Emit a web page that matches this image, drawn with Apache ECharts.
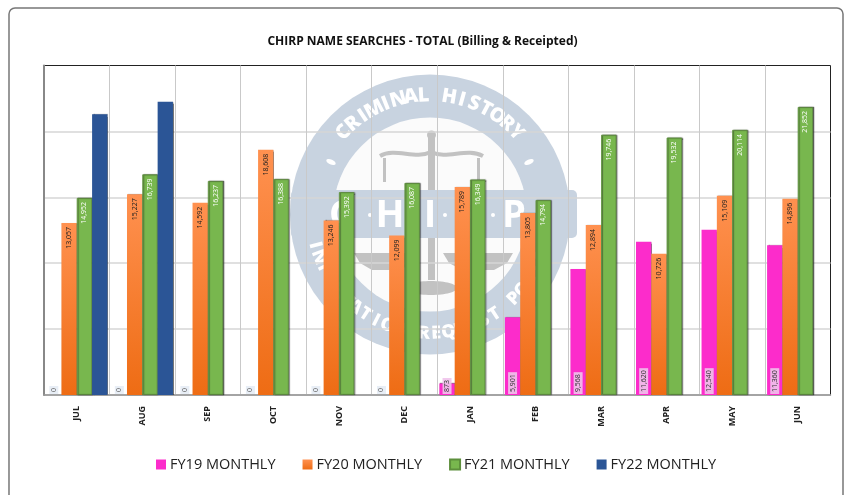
<!DOCTYPE html>
<html><head><meta charset="utf-8">
<style>html,body{margin:0;padding:0;background:#fff}#c{width:845px;height:495px}</style>
<script src="https://cdn.jsdelivr.net/npm/echarts@6/dist/echarts.min.js"></script>
</head><body><div id="c"></div>
<script>
const titleText = 'CHIRP NAME SEARCHES - TOTAL (Billing & Receipted)';
const months = ['JUL','AUG','SEP','OCT','NOV','DEC','JAN','FEB','MAR','APR','MAY','JUN'];
const fy19 = [0,0,0,0,0,0,873,5901,9568,11620,12540,11360];
const fy20 = [13057,15227,14592,18608,13246,12099,15789,13805,12894,10726,15109,14896];
const fy21 = [14952,16739,16237,16388,15392,16087,16349,14794,19746,19532,20114,21852];
const fy22 = [21300,22250,null,null,null,null,null,null,null,null,null,null];
const FONT = '"Open Sans", sans-serif';
const fmt = p => Number(p.value).toLocaleString('en-US');
const grad = (a,b) => new echarts.graphic.LinearGradient(0,0,0,1,[{offset:0,color:a},{offset:1,color:b}]);

/* decorative watermark */
const RING = '#c8d3e0', GREY = '#c2c2c2', cx = 430, cy = 214.5;
const wm = [];
wm.push({type:'circle',z:-10,shape:{cx,cy,r:140},style:{fill:RING}});
wm.push({type:'circle',z:-10,shape:{cx,cy,r:97},style:{fill:'#fbfbfb'}});
function arc(text, step, r, bottom, size){
  const n = text.length;
  [...text].forEach((ch,i)=>{
    const d = (i-(n-1)/2)*step;
    const a = (bottom ? 180-d : d)*Math.PI/180;
    wm.push({type:'text',z:-9,x:cx+r*Math.sin(a),y:cy-r*Math.cos(a),
      rotation:(bottom? d : -d)*Math.PI/180,
      style:{text:ch,fill:'#fff',font:'800 '+size+'px '+FONT,align:'center',verticalAlign:'middle'}});
  });
}
arc('CRIMINAL HISTORY',6.2,119,false,20);
arc('INFORMATION REQUEST PORTAL',6,119,true,18);
[[331,162,-0.4],[529,162,0.4]].forEach(p=>wm.push({type:'ellipse',z:-9,x:p[0],y:p[1],rotation:p[2],shape:{cx:0,cy:0,rx:5,ry:2.5},style:{fill:'#fff'}}));
wm.push({type:'rect',z:-8,shape:{x:291,y:190,width:286,height:48,r:5},style:{fill:RING}});
wm.push({type:'rect',z:-9,shape:{x:428,y:138,width:7,height:142},style:{fill:GREY}});
wm.push({type:'circle',z:-9,shape:{cx:431.5,cy:135,r:4.5},style:{fill:GREY}});
wm.push({type:'bezierCurve',z:-9,shape:{x1:380,y1:156,cpx1:395,cpy1:147,cpx2:415,cpy2:160,x2:431,y2:152},style:{fill:'none',stroke:GREY,lineWidth:4}});
wm.push({type:'bezierCurve',z:-9,shape:{x1:431,y1:152,cpx1:447,cpy1:160,cpx2:467,cpy2:147,x2:483,y2:156},style:{fill:'none',stroke:GREY,lineWidth:4}});
wm.push({type:'rect',z:-9,shape:{x:383,y:158,width:3,height:24},style:{fill:GREY}});
wm.push({type:'rect',z:-9,shape:{x:477,y:158,width:3,height:24},style:{fill:GREY}});
wm.push({type:'polygon',z:-9,shape:{points:[[354,253],[418,253],[412,263],[400,270],[372,270],[360,263]]},style:{fill:GREY}});
wm.push({type:'polygon',z:-9,shape:{points:[[443,253],[513,253],[507,263],[494,270],[462,270],[449,263]]},style:{fill:GREY}});
wm.push({type:'ellipse',z:-9,shape:{cx:431,cy:288,rx:26,ry:7},style:{fill:GREY}});
[['C',341],['H',390],['I',430],['R',470],['P',514]].forEach(p=>wm.push({type:'text',z:-7,x:p[1],y:216,style:{text:p[0],fill:'#fff',font:'bold 38px '+FONT,align:'center',verticalAlign:'middle'}}));
[370,412,445,493].forEach(x=>wm.push({type:'circle',z:-7,shape:{cx:x,cy:215,r:2},style:{fill:'#fff'}}));
wm.push({type:'rect',z:-6,shape:{x:9,y:8,width:834,height:520,r:6},style:{fill:'none',stroke:'#777',lineWidth:1.5}});

const lbl = (pos,color,extra) => Object.assign({show:true,position:pos,rotate:90,distance:4,
  align:pos==='insideTop'?'right':'left',verticalAlign:'middle',
  fontFamily:FONT,fontSize:7,color,formatter:fmt},extra||{});
const shade = {shadowColor:'rgba(30,30,30,.6)',shadowBlur:1,shadowOffsetX:1,shadowOffsetY:0};

const chart = echarts.init(document.getElementById('c'),null,{renderer:'canvas'});
chart.setOption({
  animation:false,
  backgroundColor:'#fff',
  title:{text:titleText,left:'center',top:31,textStyle:{fontFamily:FONT,fontSize:12,fontWeight:'bold',color:'#111'}},
  grid:{left:44,top:65.5,right:14.5,bottom:100,show:true,borderColor:'#222',borderWidth:1,backgroundColor:'transparent'},
  legend:{left:151,top:452,itemWidth:10,itemHeight:10,itemGap:27,icon:'rect',
    textStyle:{fontFamily:FONT,fontSize:14.5,color:'#222',padding:[0,0,0,-1]},
    data:['FY19 MONTHLY','FY20 MONTHLY','FY21 MONTHLY','FY22 MONTHLY']},
  xAxis:{type:'category',data:months,
    axisLine:{lineStyle:{color:'#999',width:1.5}},axisTick:{show:false},
    axisLabel:{rotate:90,margin:11,fontFamily:FONT,fontSize:9,fontWeight:'bold',color:'#222',interval:0},
    splitLine:{show:true,showMaxLine:false,lineStyle:{color:'#c9c9c9',width:1}}},
  yAxis:{type:'value',min:0,max:25000,interval:5000,
    axisLine:{show:true,lineStyle:{color:'#888',width:2}},axisTick:{show:false},axisLabel:{show:false},
    splitLine:{show:true,showMaxLine:false,lineStyle:{color:'#d6d6d6',width:1.5}}},
  graphic:{elements:wm},
  series:[
    {name:'FY19 MONTHLY',type:'bar',barGap:0,barCategoryGap:'6.5%',
      data:fy19.map(v=>v===0?{value:v,label:{backgroundColor:'#e8eef6',color:'#666'}}:v),
      itemStyle:Object.assign({color:'#fc2ccb'},shade),
      label:lbl('insideBottom','#333',{backgroundColor:'rgba(240,195,235,.9)',padding:[1,2,1,2],distance:1})},
    {name:'FY20 MONTHLY',type:'bar',data:fy20,
      itemStyle:Object.assign({color:grad('#ff9150','#ee6c14')},shade),
      label:lbl('insideTop','#222')},
    {name:'FY21 MONTHLY',type:'bar',data:fy21,
      itemStyle:Object.assign({color:'#78b74e',borderColor:'#5d8f3c',borderWidth:0.8},shade),
      label:lbl('insideTop','#fff')},
    {name:'FY22 MONTHLY',type:'bar',data:fy22,
      itemStyle:Object.assign({color:'#2b5596'},shade)}
  ]
});
</script></body></html>
